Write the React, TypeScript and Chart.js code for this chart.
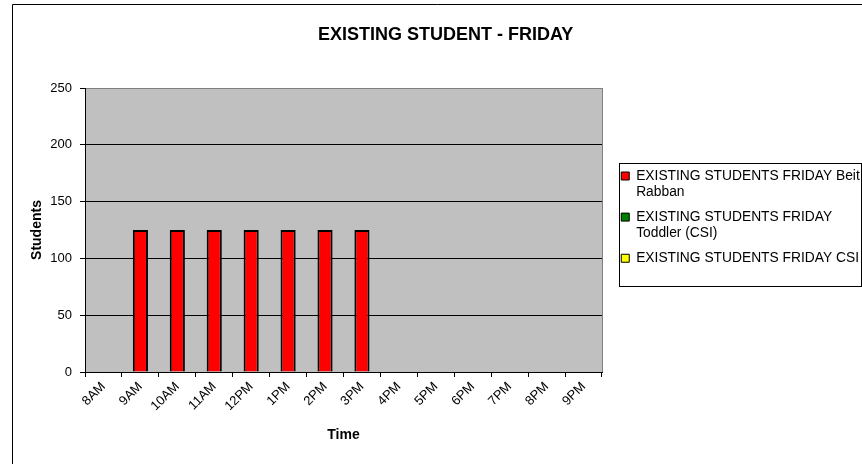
import React, { useEffect, useRef } from "react";
import { Chart, registerables } from "chart.js";

Chart.register(...registerables);

const categories = ["8AM", "9AM", "10AM", "11AM", "12PM", "1PM", "2PM", "3PM", "4PM", "5PM", "6PM", "7PM", "8PM", "9PM"];
const beitRabban = [0, 125, 125, 125, 125, 125, 125, 125, 0, 0, 0, 0, 0, 0];
const toddlerCSI = [0, 0, 0, 0, 0, 0, 0, 0, 0, 0, 0, 0, 0, 0];
const csi = [0, 0, 0, 0, 0, 0, 0, 0, 0, 0, 0, 0, 0, 0];
const seriesLabels = [
  ["EXISTING STUDENTS FRIDAY Beit", "Rabban"],
  ["EXISTING STUDENTS FRIDAY", "Toddler (CSI)"],
  ["EXISTING STUDENTS FRIDAY CSI"],
];
const seriesColors = ["#FF0000", "#008000", "#FFFF00"];
const yTicks = [0, 50, 100, 150, 200, 250];
const chartTitle = "EXISTING STUDENT - FRIDAY";
const xTitle = "Time";
const yTitle = "Students";

const FONT = "'Liberation Sans', Arial, sans-serif";

const decor = {
  id: "decor",
  beforeDraw(chart: any) {
    const { ctx, chartArea: a } = chart;
    ctx.save();
    ctx.fillStyle = "#FFFFFF";
    ctx.fillRect(0, 0, chart.width, chart.height);
    ctx.fillStyle = "#C0C0C0";
    ctx.fillRect(a.left, a.top, a.right - a.left, a.bottom - a.top);
    ctx.strokeStyle = "#000000";
    ctx.lineWidth = 1;
    ctx.beginPath();
    ctx.moveTo(12.5, chart.height);
    ctx.lineTo(12.5, 4.5);
    ctx.lineTo(chart.width, 4.5);
    ctx.stroke();
    ctx.restore();
  },
  afterDraw(chart: any) {
    const { ctx, chartArea: a } = chart;
    ctx.save();
    ctx.strokeStyle = "#808080";
    ctx.lineWidth = 1;
    ctx.beginPath();
    ctx.moveTo(Math.round(a.right) + 0.5, a.top);
    ctx.lineTo(Math.round(a.right) + 0.5, a.bottom);
    ctx.stroke();
    const lg = chart.legend;
    if (lg) {
      ctx.strokeStyle = "#000000";
      ctx.strokeRect(Math.round(lg.left + 5.75) + 0.5, Math.round(lg.top + 162.5) + 0.5, 242, 123);
    }
    ctx.restore();
  },
};

export default function App() {
  const ref = useRef<HTMLCanvasElement | null>(null);

  useEffect(() => {
    if (!ref.current) return;
    const data = [beitRabban, toddlerCSI, csi];
    const chart = new Chart(ref.current, {
      type: "bar",
      data: {
        labels: categories,
        datasets: data.map((d, i) => ({
          label: seriesLabels[i].join(" "),
          data: d,
          backgroundColor: seriesColors[i],
          borderColor: "#000000",
          borderWidth: 2,
          grouped: false,
          barPercentage: 0.41,
          categoryPercentage: 1,
          xAxisID: "x",
          yAxisID: "y",
        })),
      },
      options: {
        responsive: false,
        animation: false,
        devicePixelRatio: 1,
        events: [],
        font: { family: FONT },
        layout: { padding: { left: 29.2, right: 0, top: 0, bottom: 0 } },
        plugins: {
          tooltip: { enabled: false },
          title: {
            display: true,
            text: chartTitle,
            color: "#000000",
            font: { family: FONT, size: 18, weight: "bold" },
            padding: { top: 24, bottom: 42.4 },
          },
          legend: {
            display: true,
            position: "right",
            align: "start",
            maxWidth: 248.75,
            title: { display: true, text: "", font: { family: FONT, size: 12 }, padding: { top: 146.7, bottom: 0 } },
            labels: {
              boxWidth: 8,
              boxHeight: 8,
              padding: 8,
              color: "#000000",
              font: { family: FONT, size: 13.8 },
              generateLabels: (c: any) =>
                c.data.datasets.map((ds: any, i: number) => ({
                  text: seriesLabels[i],
                  fillStyle: seriesColors[i],
                  strokeStyle: "#000000",
                  lineWidth: 1,
                  hidden: false,
                  datasetIndex: i,
                  fontColor: "#000000",
                })),
            },
          },
        },
        scales: {
          x: {
            type: "category",
            offset: true,
            grid: { display: true, drawOnChartArea: false, drawTicks: true, tickLength: 5, color: "#000000", offset: true },
            border: { display: true, color: "#000000", width: 1 },
            ticks: { minRotation: 45, maxRotation: 45, color: "#000000", font: { family: FONT, size: 13 }, padding: 2, autoSkip: false },
            title: { display: true, text: xTitle, color: "#000000", font: { family: FONT, size: 14, weight: "bold" }, padding: { top: 0, bottom: 20 } },
            afterFit: (s: any) => {
              s.height = 92;
            },
          },
          y: {
            type: "linear",
            position: "left",
            min: 0,
            max: 250,
            afterBuildTicks: (s: any) => {
              s.ticks = yTicks.map((v) => ({ value: v }));
            },
            grid: {
              display: true,
              drawTicks: true,
              tickLength: 5,
              color: (ctx: any) => (ctx.tick && ctx.tick.value === 250 ? "#808080" : "#000000"),
              tickColor: "#000000",
            },
            border: { display: true, color: "#000000", width: 1 },
            ticks: { color: "#000000", font: { family: FONT, size: 13 }, padding: 8 },
            title: { display: true, text: yTitle, color: "#000000", font: { family: FONT, size: 14, weight: "bold" }, padding: { top: 0, bottom: 0 } },
            afterFit: (s: any) => {
              s.width = 55.8;
            },
          },
          yR: {
            type: "linear",
            position: "right",
            display: true,
            grid: { display: false },
            border: { display: false },
            ticks: { display: false },
            afterFit: (s: any) => {
              s.width = 11.25;
            },
          },
        },
      },
      plugins: [decor],
    } as any);
    return () => chart.destroy();
  }, []);

  return (
    <div style={{ position: "absolute", left: 0, top: 0, width: 862, height: 464 }}>
      <canvas ref={ref} width={862} height={464} style={{ display: "block", width: "862px", height: "464px" }} />
    </div>
  );
}
